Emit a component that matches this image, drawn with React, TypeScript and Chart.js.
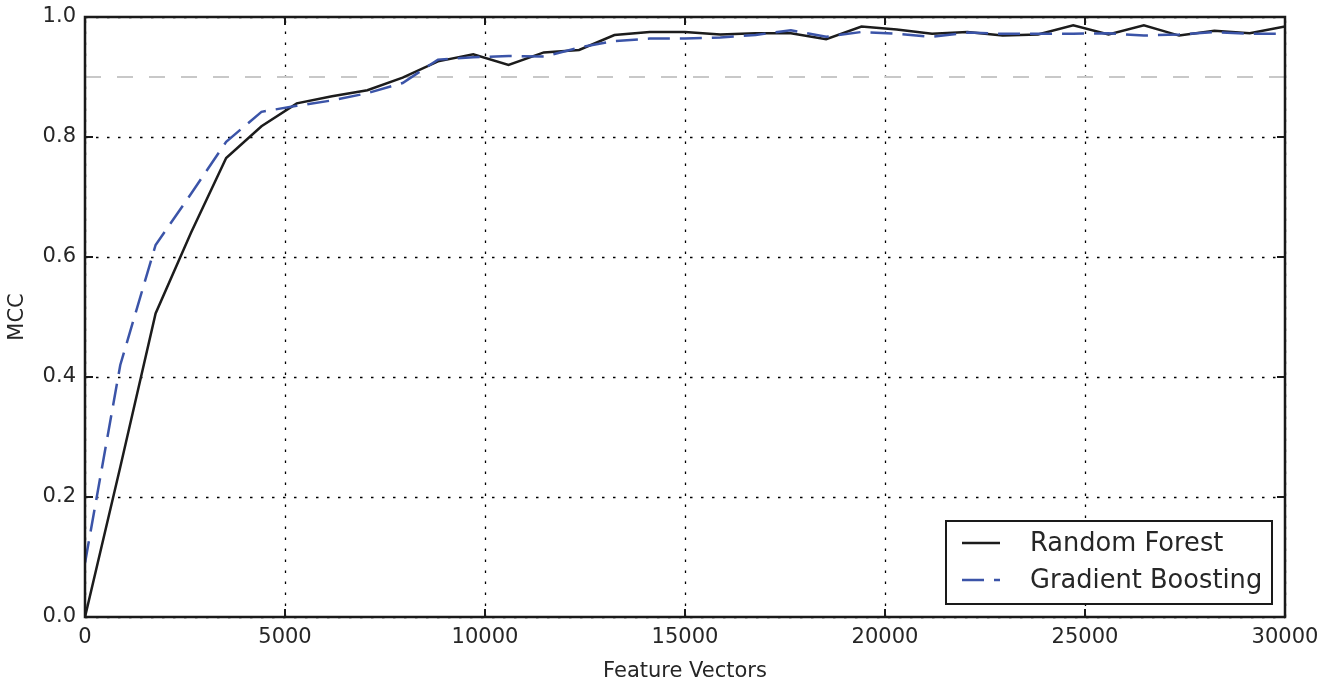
import React, { useEffect, useRef } from 'react';
import { Chart, registerables } from 'chart.js';

Chart.register(...registerables);

// ---- data ----
const featureVectors = [
  0, 882, 1765, 2647, 3529, 4412, 5294, 6176, 7059, 7941, 8824, 9706, 10588, 11471,
  12353, 13235, 14118, 15000, 15882, 16765, 17647, 18529, 19412, 20294, 21176, 22059,
  22941, 23824, 24706, 25588, 26471, 27353, 28235, 29118, 30000,
];
const randomForest = [
  0.0, 0.25, 0.506, 0.64, 0.765, 0.818, 0.856, 0.868, 0.878, 0.899, 0.926, 0.938, 0.92,
  0.941, 0.945, 0.97, 0.975, 0.975, 0.971, 0.973, 0.973, 0.963, 0.984, 0.979, 0.972,
  0.975, 0.969, 0.971, 0.986, 0.971, 0.986, 0.969, 0.977, 0.973, 0.984,
];
const gradientBoosting = [
  0.09, 0.42, 0.62, 0.705, 0.792, 0.842, 0.852, 0.861, 0.873, 0.89, 0.929, 0.933, 0.935,
  0.934, 0.949, 0.96, 0.964, 0.964, 0.966, 0.97, 0.978, 0.967, 0.975, 0.972, 0.967,
  0.974, 0.972, 0.972, 0.972, 0.973, 0.969, 0.971, 0.975, 0.972, 0.972,
];
const thresholdLine = [0.9, 0.9];
const thresholdX = [0, 30000];
const xTicks = [0, 5000, 10000, 15000, 20000, 25000, 30000];
const yTicks = [0.0, 0.2, 0.4, 0.6, 0.8, 1.0];
const seriesNames = ['Random Forest', 'Gradient Boosting'];

const W = 1334;
const H = 684;
const FONT = "'DejaVu Sans', sans-serif";
const TEXT = '#262626';
const RF_COLOR = '#1c1c1c';
const GB_COLOR = '#3b54a8';
const GB_DASH = [22, 10];

const gridPlugin = {
  id: 'dottedGrid',
  beforeDatasetsDraw(chart: any) {
    const { ctx, chartArea: a, scales } = chart;
    const x = scales.x;
    const y = scales.y;
    ctx.save();
    ctx.strokeStyle = '#000';
    ctx.lineWidth = 1.3;
    ctx.setLineDash([2.5, 8.5]);
    xTicks.forEach((v) => {
      const px = Math.round(x.getPixelForValue(v)) + 0.5;
      ctx.beginPath();
      ctx.moveTo(px, a.bottom);
      ctx.lineTo(px, a.top);
      ctx.stroke();
    });
    yTicks.forEach((v) => {
      const py = Math.round(y.getPixelForValue(v)) + 0.5;
      ctx.beginPath();
      ctx.moveTo(a.left, py);
      ctx.lineTo(a.right, py);
      ctx.stroke();
    });
    ctx.restore();
  },
};

const framePlugin = {
  id: 'frameAndLegend',
  afterDatasetsDraw(chart: any) {
    const { ctx, chartArea: a, scales } = chart;
    const x = scales.x;
    const y = scales.y;
    ctx.save();
    ctx.strokeStyle = '#1a1a1a';
    ctx.lineWidth = 2;
    ctx.setLineDash([]);
    const seg = (x1: number, y1: number, x2: number, y2: number) => {
      ctx.beginPath();
      ctx.moveTo(x1, y1);
      ctx.lineTo(x2, y2);
      ctx.stroke();
    };
    const TL = 8;
    xTicks.forEach((v) => {
      const px = x.getPixelForValue(v);
      seg(px, a.bottom, px, a.bottom - TL);
      seg(px, a.top, px, a.top + TL);
    });
    yTicks.forEach((v) => {
      const py = y.getPixelForValue(v);
      seg(a.left, py, a.left + TL, py);
      seg(a.right, py, a.right - TL, py);
    });
    ctx.lineWidth = 2.5;
    ctx.strokeRect(a.left, a.top, a.right - a.left, a.bottom - a.top);

    // legend
    const bx = a.right - 339;
    const by = a.bottom - 96;
    const bw = 326;
    const bh = 83;
    ctx.fillStyle = '#fff';
    ctx.fillRect(bx, by, bw, bh);
    ctx.lineWidth = 2;
    ctx.strokeStyle = '#1a1a1a';
    ctx.strokeRect(bx, by, bw, bh);
    const rows = [
      { name: seriesNames[0], color: RF_COLOR, dash: [] as number[], yy: by + 22 },
      { name: seriesNames[1], color: GB_COLOR, dash: GB_DASH, yy: by + 59 },
    ];
    rows.forEach((r) => {
      ctx.strokeStyle = r.color;
      ctx.lineWidth = 2.5;
      ctx.setLineDash(r.dash);
      ctx.beginPath();
      ctx.moveTo(bx + 16, r.yy);
      ctx.lineTo(bx + 54, r.yy);
      ctx.stroke();
      ctx.setLineDash([]);
      ctx.fillStyle = TEXT;
      ctx.font = `25.7px ${FONT}`;
      ctx.textBaseline = 'middle';
      ctx.textAlign = 'left';
      ctx.fillText(r.name, bx + 84, r.yy + 1);
    });
    ctx.restore();
  },
};

export default function App() {
  const ref = useRef<HTMLCanvasElement | null>(null);

  useEffect(() => {
    if (!ref.current) return;
    const chart = new Chart(ref.current, {
      type: 'line',
      data: {
        datasets: [
          {
            label: 'threshold',
            data: thresholdX.map((v, i) => ({ x: v, y: thresholdLine[i] })),
            borderColor: '#c8c8c8',
            borderWidth: 2,
            borderDash: [16, 16],
            pointRadius: 0,
            fill: false,
            order: 3,
          },
          {
            label: seriesNames[0],
            data: featureVectors.map((v, i) => ({ x: v, y: randomForest[i] })),
            borderColor: RF_COLOR,
            borderWidth: 2.5,
            pointRadius: 0,
            tension: 0,
            fill: false,
            order: 2,
          },
          {
            label: seriesNames[1],
            data: featureVectors.map((v, i) => ({ x: v, y: gradientBoosting[i] })),
            borderColor: GB_COLOR,
            borderWidth: 2.5,
            borderDash: GB_DASH,
            pointRadius: 0,
            tension: 0,
            fill: false,
            order: 1,
          },
        ],
      },
      options: {
        animation: false,
        responsive: false,
        devicePixelRatio: 1,
        layout: { padding: { left: 0, top: 17, right: 49, bottom: 0 } },
        plugins: { legend: { display: false }, tooltip: { enabled: false } },
        scales: {
          x: {
            type: 'linear',
            min: 0,
            max: 30000,
            grid: { display: false, drawTicks: false },
            border: { display: false },
            afterBuildTicks: (s: any) => {
              s.ticks = xTicks.map((v) => ({ value: v }));
            },
            ticks: {
              color: TEXT,
              font: { family: FONT, size: 21 },
              padding: 8,
              maxRotation: 0,
              autoSkip: false,
              callback: (v: any) => String(v),
            },
            title: {
              display: true,
              text: 'Feature Vectors',
              color: TEXT,
              font: { family: FONT, size: 21 },
              padding: { top: 0, bottom: 0 },
            },
            afterFit: (s: any) => {
              s.height = H - 617;
              s.paddingLeft = 0;
              s.paddingRight = 0;
              s.paddingTop = 0;
              s.paddingBottom = 0;
            },
          },
          y: {
            type: 'linear',
            min: 0,
            max: 1,
            grid: { display: false, drawTicks: false },
            border: { display: false },
            afterBuildTicks: (s: any) => {
              s.ticks = yTicks.map((v) => ({ value: v }));
            },
            ticks: {
              color: TEXT,
              font: { family: FONT, size: 21 },
              padding: 9,
              autoSkip: false,
              callback: (v: any) => Number(v).toFixed(1),
            },
            title: {
              display: true,
              text: 'MCC',
              color: TEXT,
              font: { family: FONT, size: 21 },
              padding: { top: 5, bottom: 0 },
            },
            afterFit: (s: any) => {
              s.width = 85;
              s.paddingLeft = 0;
              s.paddingRight = 0;
              s.paddingTop = 0;
              s.paddingBottom = 0;
            },
          },
        },
      },
      plugins: [gridPlugin, framePlugin],
    } as any);
    return () => chart.destroy();
  }, []);

  return (
    <div style={{ position: 'absolute', left: 0, top: 0, width: W, height: H, background: '#fff' }}>
      <canvas ref={ref} width={W} height={H} style={{ width: W, height: H, display: 'block' }} />
    </div>
  );
}
